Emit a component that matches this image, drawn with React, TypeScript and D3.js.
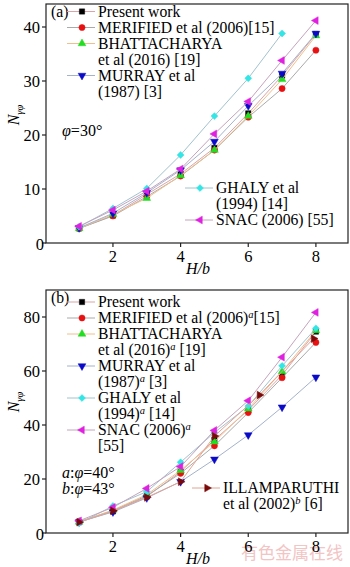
import React from 'react';
import * as d3 from 'd3';

// H/b values
const hb = [1, 2, 3, 4, 5, 6, 7, 8];
const hbGhalyA = [1, 2, 3, 4, 5, 6, 7];
const hbIllam = [1, 2, 3, 4, 5, 6.33, 7.93];

// panel (a) phi = 30
const aPresent = [2.7, 5.1, 9.0, 12.8, 17.6, 24.0, 31.0, 38.7];
const aMerified = [2.7, 5.0, 8.6, 12.4, 17.2, 23.3, 28.6, 35.7];
const aBhatt = [2.7, 5.3, 8.3, 12.5, 17.2, 23.5, 30.3, 38.4];
const aMurray = [2.8, 5.5, 9.3, 13.5, 18.8, 25.4, 31.4, 38.8];
const aGhaly = [3.0, 6.4, 10.1, 16.3, 23.5, 30.5, 38.8];
const aSnac = [3.1, 6.1, 9.6, 13.7, 20.2, 26.2, 33.8, 41.2];

// panel (b) phi = 40 / 43
const bPresent = [4.0, 8.0, 13.5, 22.7, 34.5, 45.5, 58.5, 74.6];
const bMerified = [4.2, 8.3, 13.8, 22.1, 32.3, 44.6, 57.5, 70.6];
const bBhatt = [4.1, 8.5, 14.2, 23.2, 33.8, 46.0, 59.8, 75.0];
const bMurray = [4.1, 7.8, 13.0, 19.0, 27.3, 36.3, 46.6, 57.7];
const bGhaly = [3.6, 10.0, 15.3, 26.2, 37.2, 47.0, 61.9, 75.8];
const bSnac = [4.5, 9.5, 16.5, 24.6, 38.0, 49.0, 65.1, 81.7];
const bIllam = [4.0, 8.2, 13.2, 19.0, 35.9, 51.1, 72.0];

const xTicks = [2, 4, 6, 8];
const aTicks = [0, 10, 20, 30, 40];
const bTicks = [0, 20, 40, 60, 80];

const FONT = '"Liberation Serif", "Times New Roman", serif';
const LF = 15.7;

type Style = { shape: string; fill: string; line: string };
const styles: Record<string, Style> = {
  present: { shape: 'square', fill: '#000000', line: '#dba4a8' },
  merified: { shape: 'circle', fill: '#e81010', line: '#aaaaaa' },
  bhatt: { shape: 'up', fill: '#22dd22', line: '#f0bf8c' },
  murray: { shape: 'down', fill: '#0a0ac8', line: '#a4b2cc' },
  ghaly: { shape: 'diamond', fill: '#33e5e5', line: '#a2c2d0' },
  snac: { shape: 'left', fill: '#e020e0', line: '#c4a4bc' },
  illam: { shape: 'right', fill: '#7a0a0a', line: '#e2a494' },
};

const symPath = (shape: string) => {
  const tri = d3.symbol().type(d3.symbolTriangle).size(26)() as string;
  switch (shape) {
    case 'square':
      return { d: d3.symbol().type(d3.symbolSquare).size(28)() as string, rot: 0 };
    case 'circle':
      return { d: d3.symbol().type(d3.symbolCircle).size(30)() as string, rot: 0 };
    case 'diamond':
      return { d: d3.symbol().type(d3.symbolSquare).size(24)() as string, rot: 45 };
    case 'up':
      return { d: tri, rot: 0 };
    case 'down':
      return { d: tri, rot: 180 };
    case 'left':
      return { d: tri, rot: -90 };
    default:
      return { d: tri, rot: 90 };
  }
};

const Marker = ({ x, y, s }: { x: number; y: number; s: Style }) => {
  const p = symPath(s.shape);
  return (
    <path
      d={p.d}
      transform={`translate(${x},${y}) rotate(${p.rot})`}
      fill={s.fill}
      stroke={s.fill}
      strokeWidth={0.5}
    />
  );
};

const x = d3.scaleLinear().domain([0, 8]).range([45.3, 315.9]);

const Series = ({ xs, ys, s, y }: any) => {
  const line = d3
    .line<number>()
    .x((_, i) => x(xs[i]))
    .y((d) => y(d));
  return (
    <g>
      <path d={line(ys) as string} fill="none" stroke={s.line} strokeWidth={1} />
      {ys.map((v: number, i: number) => (
        <Marker key={i} x={x(xs[i])} y={y(v)} s={s} />
      ))}
    </g>
  );
};

const LegendRow = ({ lx, ly, s, lines }: any) => (
  <g>
    <line x1={lx} x2={lx + 28} y1={ly} y2={ly} stroke={s.line} strokeWidth={1} />
    <Marker x={lx + 15} y={ly} s={s} />
    {lines.map((t: any, i: number) => (
      <text key={i} x={lx + 31} y={ly + 5 + i * 16} fontSize={LF}>
        {t}
      </text>
    ))}
  </g>
);

const Sup = ({ c }: { c: string }) => (
  <tspan fontStyle="italic" fontSize={10.5} dy={-5}>
    {c}
  </tspan>
);

const Panel = ({ y, ticks, top, bottom, label, children, yLabel }: any) => (
  <g>
    <rect x={46} y={top} width={302} height={bottom - top} fill="none" stroke="#222" strokeWidth={1.2} />
    {ticks.map((t: number) => (
      <g key={t}>
        <line x1={42} x2={46} y1={y(t)} y2={y(t)} stroke="#222" strokeWidth={1.2} />
        <text x={t === 0 ? 44 : 40} y={y(t) + (t === 0 ? 7 : 5.5)} textAnchor="end" fontSize={16.5}>
          {t}
        </text>
      </g>
    ))}
    {xTicks.map((t) => (
      <g key={t}>
        <line x1={x(t)} x2={x(t)} y1={bottom} y2={bottom + 4} stroke="#222" strokeWidth={1.2} />
        <text x={x(t)} y={bottom + 19} textAnchor="middle" fontSize={16.5}>
          {t}
        </text>
      </g>
    ))}
    <text x={198} y={bottom + 31} textAnchor="middle" fontSize={16} fontStyle="italic">
      H/b
    </text>
    <text transform={`translate(19,${yLabel}) rotate(-90)`} textAnchor="middle" fontSize={16}>
      <tspan fontStyle="italic">N</tspan>
      <tspan fontStyle="italic" fontSize={10.5} dy={4}>
        γφ
      </tspan>
    </text>
    <text x={51} y={top + 13} fontSize={LF}>
      {label}
    </text>
    {children}
  </g>
);

export default function App() {
  const ya = d3.scaleLinear().domain([0, 40]).range([243, 27]);
  const yb = d3.scaleLinear().domain([0, 80]).range([533, 317]);
  return (
    <svg
      width={350}
      height={567}
      style={{ position: 'absolute', left: 0, top: 0, background: '#fff' }}
      fontFamily={FONT}
    >
      <text
        x={292}
        y={559}
        textAnchor="middle"
        fontSize={17}
        fill="#f2c4c4"
        fontFamily='"Noto Sans CJK SC", sans-serif'
      >
        有色金属在线
      </text>
      <Panel y={ya} ticks={aTicks} top={4} bottom={243} label="(a)" yLabel={115}>
        <Series xs={hb} ys={aPresent} s={styles.present} y={ya} />
        <Series xs={hb} ys={aMerified} s={styles.merified} y={ya} />
        <Series xs={hb} ys={aBhatt} s={styles.bhatt} y={ya} />
        <Series xs={hb} ys={aMurray} s={styles.murray} y={ya} />
        <Series xs={hbGhalyA} ys={aGhaly} s={styles.ghaly} y={ya} />
        <Series xs={hb} ys={aSnac} s={styles.snac} y={ya} />
        <LegendRow lx={67} ly={11.5} s={styles.present} lines={['Present work']} />
        <LegendRow lx={67} ly={27.5} s={styles.merified} lines={['MERIFIED et al (2006)[15]']} />
        <LegendRow lx={67} ly={43.5} s={styles.bhatt} lines={['BHATTACHARYA', 'et al (2016) [19]']} />
        <LegendRow lx={67} ly={75.5} s={styles.murray} lines={['MURRAY et al', '(1987) [3]']} />
        <LegendRow lx={185} ly={188} s={styles.ghaly} lines={['GHALY et al', '(1994) [14]']} />
        <LegendRow lx={185} ly={220} s={styles.snac} lines={['SNAC (2006) [55]']} />
        <text x={62} y={136} fontSize={16}>
          <tspan fontStyle="italic">φ</tspan>=30°
        </text>
      </Panel>
      <Panel y={yb} ticks={bTicks} top={290} bottom={533} label="(b)" yLabel={402}>
        <Series xs={hb} ys={bPresent} s={styles.present} y={yb} />
        <Series xs={hb} ys={bMerified} s={styles.merified} y={yb} />
        <Series xs={hb} ys={bBhatt} s={styles.bhatt} y={yb} />
        <Series xs={hb} ys={bMurray} s={styles.murray} y={yb} />
        <Series xs={hb} ys={bGhaly} s={styles.ghaly} y={yb} />
        <Series xs={hb} ys={bSnac} s={styles.snac} y={yb} />
        <Series xs={hbIllam} ys={bIllam} s={styles.illam} y={yb} />
        <LegendRow lx={67} ly={302} s={styles.present} lines={['Present work']} />
        <LegendRow
          lx={67}
          ly={318}
          s={styles.merified}
          lines={[<>MERIFIED et al (2006)<Sup c="a" /><tspan dy={5}>[15]</tspan></>]}
        />
        <LegendRow
          lx={67}
          ly={334}
          s={styles.bhatt}
          lines={['BHATTACHARYA', <>et al (2016)<Sup c="a" /><tspan dy={5}> [19]</tspan></>]}
        />
        <LegendRow
          lx={67}
          ly={366}
          s={styles.murray}
          lines={['MURRAY et al', <>(1987)<Sup c="a" /><tspan dy={5}> [3]</tspan></>]}
        />
        <LegendRow
          lx={67}
          ly={398}
          s={styles.ghaly}
          lines={['GHALY et al', <>(1994)<Sup c="a" /><tspan dy={5}> [14]</tspan></>]}
        />
        <LegendRow
          lx={67}
          ly={430}
          s={styles.snac}
          lines={[<>SNAC (2006)<Sup c="a" /></>, '[55]']}
        />
        <LegendRow
          lx={192}
          ly={488}
          s={styles.illam}
          lines={['ILLAMPARUTHI', <>et al (2002)<Sup c="b" /><tspan dy={5}> [6]</tspan></>]}
        />
        <text x={62} y={478} fontSize={16}>
          <tspan fontStyle="italic">a</tspan>:<tspan fontStyle="italic">φ</tspan>=40°
        </text>
        <text x={62} y={494} fontSize={16}>
          <tspan fontStyle="italic">b</tspan>:<tspan fontStyle="italic">φ</tspan>=43°
        </text>
      </Panel>
    </svg>
  );
}
